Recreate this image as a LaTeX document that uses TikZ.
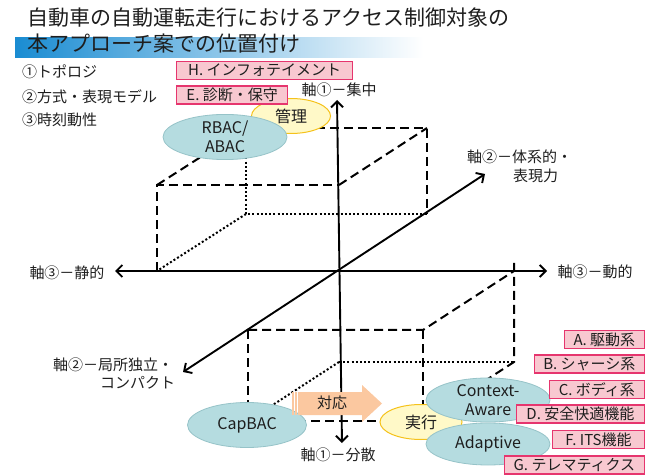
\documentclass[tikz,border=0pt]{standalone}
\usepackage{fontspec}
\setmainfont{Noto Sans CJK JP}
\usetikzlibrary{arrows.meta,shapes.geometric}
\definecolor{tealF}{HTML}{B5DCE0}
\definecolor{tealD}{HTML}{96C3C8}
\definecolor{yelF}{HTML}{FFF9C8}
\definecolor{yelD}{HTML}{F5C21B}
\definecolor{pinkF}{HTML}{F8C8D0}
\definecolor{pinkD}{HTML}{E6356E}
\definecolor{orF}{HTML}{FBC8A0}
\definecolor{barA}{HTML}{1A8CD2}
\definecolor{barB}{HTML}{A9CDEB}
\definecolor{txt}{HTML}{1E1E1E}
\begin{document}
\begin{tikzpicture}[x=1pt,y=-1pt,
  every node/.style={text=txt},
  axisline/.style={line width=1.9pt,{Straight Barb[length=6pt,width=12pt]}-{Straight Barb[length=6pt,width=12pt]}},
  dline/.style={line width=2pt,dash pattern=on 9pt off 5pt},
  dotline/.style={line width=2pt,dash pattern=on 2pt off 2.2pt},
  tealell/.style={ellipse,fill=tealF,draw=tealD,line width=0.8pt,inner sep=0pt,font=\fontsize{16}{19}\selectfont,align=center},
  yelell/.style={ellipse,fill=yelF,draw=yelD,line width=1pt,inner sep=0pt,font=\fontsize{16}{19}\selectfont},
  lbl/.style={fill=pinkF,draw=pinkD,line width=1.2pt,inner xsep=4pt,inner ysep=0pt,minimum height=18pt,font=\fontsize{15}{15}\selectfont},
  axlbl/.style={inner sep=0pt,font=\fontsize{15}{18}\selectfont},
  listtxt/.style={inner sep=0pt,anchor=west,font=\fontsize{15}{18}\selectfont},
  titletxt/.style={inner sep=0pt,anchor=west,font=\fontsize{21}{24}\selectfont}
]
\useasboundingbox (0,0) rectangle (657,476);

% title
\fill[left color=barA,middle color=barB,right color=white] (15,38) rectangle (423,58);
\node[titletxt] (t1) at (27,17.5) {自動車の自動運転走行におけるアクセス制御対象の};
\node[titletxt] (t2) at (27,43.5) {本アプローチ案での位置付け};

% list
\node[listtxt] (l1) at (22,72) {①トポロジ};
\node[listtxt] (l2) at (22,97) {②方式・表現モデル};
\node[listtxt] (l3) at (22,120) {③時刻動性};

% coordinates
\coordinate (O) at (339,271);
\coordinate (A0) at (157,271);
\coordinate (A1) at (157,185);
\coordinate (A2) at (339,185);
\coordinate (A3) at (246,128);
\coordinate (A4) at (427,128);
\coordinate (A5) at (427,214);
\coordinate (A6) at (246,214);
\coordinate (B1) at (514,271);
\coordinate (B1t) at (514,263);
\coordinate (B2) at (423,330);
\coordinate (B3) at (248,330);
\coordinate (B4) at (248,421);
\coordinate (B5) at (423,421);
\coordinate (B6) at (514,362);
\coordinate (B7) at (339,362);

% top box
\draw[dline] (A0) -- (A1) -- (A2);
\draw[dline] (A1) -- (A3);
\draw[dline] (A2) -- (A4);
\draw[dline] (A3) -- (A4) -- (A5);
\draw[dotline] (A3) -- (A6) -- (A5);
\draw[dotline] (A6) -- (A0);

% bottom box
\draw[dline] (B3) -- (B2) -- (B1);
\draw[dline] (B1t) -- (B6) -- (B5);
\draw[dline] (B3) -- (B4) -- (B5);
\draw[dline] (B2) -- (B5);
\draw[dotline] (B7) -- (B6);
\draw[dotline] (B7) -- (B4);

% axes
\coordinate (vT) at (337,100);
\coordinate (vB) at (342,443);
\coordinate (hL) at (115,271);
\coordinate (hR) at (547,271);
\coordinate (dL) at (183,372);
\coordinate (dR) at (485,174);
\draw[axisline] (vB) -- (vT);
\draw[axisline] (hL) -- (hR);
\draw[axisline] (dL) -- (dR);

% axis labels
\node[axlbl] (ax1t) at (339,90) {軸①－集中};
\node[axlbl] (ax1b) at (338,455) {軸①－分散};
\node[axlbl] (ax3l) at (67,273) {軸③－静的};
\node[axlbl] (ax3r) at (595,272) {軸③－動的};
\node[axlbl,anchor=west] (ax2ra) at (467,157) {軸②－体系的・};
\node[axlbl,anchor=west] (ax2rb) at (513,176) {表現力};
\node[axlbl,anchor=west] (ax2la) at (53,365) {軸②－局所独立・};
\node[axlbl,anchor=west] (ax2lb) at (100,383) {コンパクト};

% ellipses
\node[yelell,minimum width=79pt,minimum height=35pt] (kanri) at (291,116) {管理};
\node[tealell,minimum width=124pt,minimum height=45pt] (rbac) at (225,137) {RBAC/\\ABAC};
\node[tealell,minimum width=119pt,minimum height=45pt] (cap) at (247,425) {CapBAC};
\node[yelell,minimum width=82pt,minimum height=35pt] (jikko) at (421,422) {実行};
\node[tealell,minimum width=124pt,minimum height=44pt] (ctx) at (488,400) {Context-\\Aware};
\node[tealell,minimum width=124pt,minimum height=42pt] (adp) at (488,444) {Adaptive};

% taiou arrow
\fill[orF] (298,392) -- (362,392) -- (362,385) -- (382,403.5) -- (362,422) -- (362,415) -- (298,415) -- cycle;
\fill[orF] (292,392) rectangle (293.5,415);
\fill[orF] (295,392) rectangle (296.5,415);
\node[axlbl] (taiou) at (332,403) {対応};

% labels
\node[lbl,anchor=east,minimum width=80pt] (la) at (645,339.5) {A. 駆動系};
\node[lbl,anchor=east,minimum width=110pt] (lb) at (645,364) {B. シャーシ系};
\node[lbl,anchor=east,minimum width=95pt] (lc) at (645,389.5) {C. ボディ系};
\node[lbl,anchor=east,minimum width=128pt] (ld) at (645,414) {D. 安全快適機能};
\node[lbl,anchor=east,minimum width=92pt] (lf) at (645,439.5) {F. ITS機能};
\node[lbl,anchor=east,minimum width=140pt] (lg) at (645,465) {G. テレマティクス};
\node[lbl,anchor=west,minimum width=176pt] (lh) at (176,70.5) {H. インフォテイメント};
\node[lbl,anchor=west,minimum width=111pt] (le) at (176,95) {E. 診断・保守};
\end{tikzpicture}
\end{document}
